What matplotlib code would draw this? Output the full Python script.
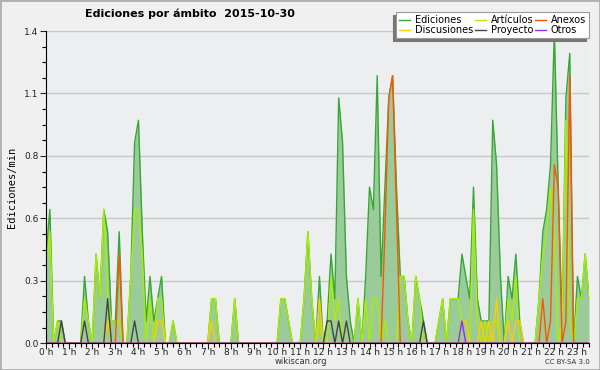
import numpy as np
import matplotlib.pyplot as plt
from matplotlib.patches import Rectangle
from matplotlib.ticker import MultipleLocator, FormatStrFormatter

# una muestra cada 10 minutos, de 0:00 a 23:30
horas = np.arange(142) / 6.0

ediciones = [0.4, 0.6, 0.0, 0.1, 0.1, 0.0,  0, 0, 0, 0, 0.3, 0.1,
             0.0, 0.4, 0.2, 0.6, 0.5, 0.1,  0.1, 0.5, 0.0, 0.0, 0.3, 0.9,
             1.0, 0.5, 0.1, 0.3, 0.1, 0.2,  0.3, 0, 0, 0.1, 0, 0,
             0, 0, 0, 0, 0, 0,  0, 0.2, 0.2, 0, 0, 0,
             0, 0.2, 0, 0, 0, 0,  0, 0, 0, 0, 0, 0,
             0, 0.2, 0.2, 0.1, 0, 0,  0, 0.2, 0.5, 0.2, 0.0, 0.3,
             0.0, 0.1, 0.4, 0.2, 1.1, 0.9,  0.3, 0.1, 0.0, 0.2, 0.0, 0.3,
             0.7, 0.6, 1.2, 0.3, 0.7, 1.1,  1.2, 0.7, 0.3, 0.3, 0.1, 0.0,
             0.3, 0.2, 0.1, 0, 0, 0,  0.1, 0.2, 0.0, 0.2, 0.2, 0.2,
             0.4, 0.3, 0.2, 0.7, 0.2, 0.1,  0.1, 0.1, 1.0, 0.8, 0.3, 0.0,
             0.3, 0.2, 0.4, 0.1, 0.0, 0,  0, 0.0, 0.2, 0.5, 0.6, 0.8,
             1.4, 0.7, 0.1, 1.1, 1.3, 0.0,  0.3, 0.2, 0.4, 0.2]

articulos = [0.3, 0.5, 0, 0.1, 0, 0,  0, 0, 0, 0, 0.2, 0.1,
             0, 0.4, 0.2, 0.6, 0.2, 0.1,  0.1, 0.1, 0, 0, 0.3, 0.6,
             0.6, 0.4, 0.0, 0.2, 0.0, 0.2,  0.2, 0, 0, 0.1, 0, 0,
             0, 0, 0, 0, 0, 0,  0, 0.2, 0.2, 0, 0, 0,
             0, 0.2, 0, 0, 0, 0,  0, 0, 0, 0, 0, 0,
             0, 0.2, 0.2, 0.1, 0, 0,  0, 0.2, 0.5, 0.2, 0, 0.1,
             0, 0.0, 0.3, 0.1, 0.2, 0.0,  0.1, 0.0, 0, 0.2, 0, 0.2,
             0.0, 0.2, 0.2, 0.0, 0.1, 0.0,  0.0, 0.0, 0.3, 0.3, 0.1, 0,
             0.3, 0.2, 0.0, 0, 0, 0,  0.1, 0.2, 0, 0.2, 0.2, 0.2,
             0.1, 0.1, 0.0, 0.6, 0.1, 0.0,  0.1, 0.0, 0.1, 0.1, 0.0, 0.0,
             0.2, 0.1, 0.3, 0.0, 0, 0,  0, 0, 0.2, 0.4, 0.5, 0.7,
             0.5, 0.0, 0.1, 1.0, 0.1, 0.0,  0.2, 0.2, 0.4, 0.2]

anexos = [0.0] * 142
for i, v in [(19, 0.4), (88, 0.5), (89, 1.1), (90, 1.2), (91, 0.6),
             (129, 0.2), (131, 0.1), (132, 0.8), (133, 0.7), (135, 0.1), (136, 1.2)]:
    anexos[i] = v

discusiones = [0.0] * 142
for i, v in [(16, 0.1), (29, 0.1), (30, 0.1), (43, 0.1), (71, 0.2), (108, 0.1),
             (109, 0.1), (113, 0.1), (115, 0.1), (117, 0.2), (120, 0.1), (122, 0.1), (123, 0.1)]:
    discusiones[i] = v

proyecto = [0.0] * 142
for i, v in [(4, 0.1), (10, 0.1), (16, 0.2), (23, 0.1), (73, 0.1), (74, 0.1),
             (76, 0.1), (78, 0.1), (98, 0.1)]:
    proyecto[i] = v

otros = [0.0] * 142
otros[108] = 0.1

fig = plt.figure(figsize=(6, 3.7), dpi=100, facecolor='#f0f0f0')
fig.patches.append(Rectangle((0, 0), 1, 1, transform=fig.transFigure, fill=False,
                             edgecolor='#b0b0b0', lw=2))
ax = fig.add_axes([0.0767, 0.0722, 0.905, 0.844])
ax.set_facecolor('#edeef0')

ax.fill_between(horas, ediciones, color='#9bca9b', lw=0)
l_ed, = ax.plot(horas, ediciones, color='#35a835', lw=1)
l_ar, = ax.plot(horas, articulos, color='#aaee00', lw=1)
l_an, = ax.plot(horas, anexos, color='#ff5500', lw=1)
l_di, = ax.plot(horas, discusiones, color='#ffcc00', lw=1)
l_pr, = ax.plot(horas, proyecto, color='#444444', lw=1)
l_ot, = ax.plot(horas, otros, color='#8833ee', lw=1)

ax.set_xlim(0, 23.5)
ax.set_ylim(0, 1.4)
ax.set_yticks(np.linspace(0, 1.4, 6))
ax.yaxis.set_major_formatter(FormatStrFormatter('%.1f'))
ax.yaxis.set_minor_locator(MultipleLocator(0.07))
ax.set_xticks(range(24))
ax.set_xticklabels(['%d h' % h for h in range(24)])
ax.xaxis.set_minor_locator(MultipleLocator(0.25))
ax.grid(axis='y', color='#c8c8c8', lw=1)
ax.set_axisbelow(True)
for s in ['top', 'right']:
    ax.spines[s].set_visible(False)
ax.tick_params(which='major', length=4, width=0.8, labelsize=6.5, colors='#222222')
ax.tick_params(which='minor', length=3, width=0.8)
ax.tick_params(axis='x', pad=-0.5)
ax.tick_params(axis='y', pad=1.5)
ax.set_ylabel('Ediciones/min', family='DejaVu Sans Mono', fontsize=7.5, labelpad=5)

fig.text(85 / 600, 1 - 14 / 370, 'Ediciones por ámbito  2015-10-30', weight='bold',
         fontsize=8, va='center', ha='left')
fig.text(301 / 600, 1 - 362 / 370, 'wikiscan.org', fontsize=6, ha='center', va='center',
         color='#333333')
fig.text(590 / 600, 1 - 362 / 370, 'CC BY-SA 3.0', fontsize=5, ha='right', va='center',
         color='#333333')

leg = ax.legend([l_ed, l_di, l_ar, l_pr, l_an, l_ot],
                ['Ediciones', 'Discusiones', 'Artículos', 'Proyecto', 'Anexos', 'Otros'],
                ncol=3, loc='upper right', bbox_to_anchor=(589 / 600, 1 - 12 / 370),
                bbox_transform=fig.transFigure, fontsize=7, frameon=True, fancybox=False,
                shadow={'ox': -2.2, 'oy': -2.2, 'color': '#777777', 'alpha': 1},
                handlelength=1.1, handletextpad=0.5, columnspacing=0.2,
                labelspacing=0.05, borderpad=0.3, borderaxespad=0)
leg.get_frame().set_edgecolor('#999999')
leg.get_frame().set_linewidth(0.8)

fig.savefig('out.png', dpi=100, facecolor=fig.get_facecolor())
